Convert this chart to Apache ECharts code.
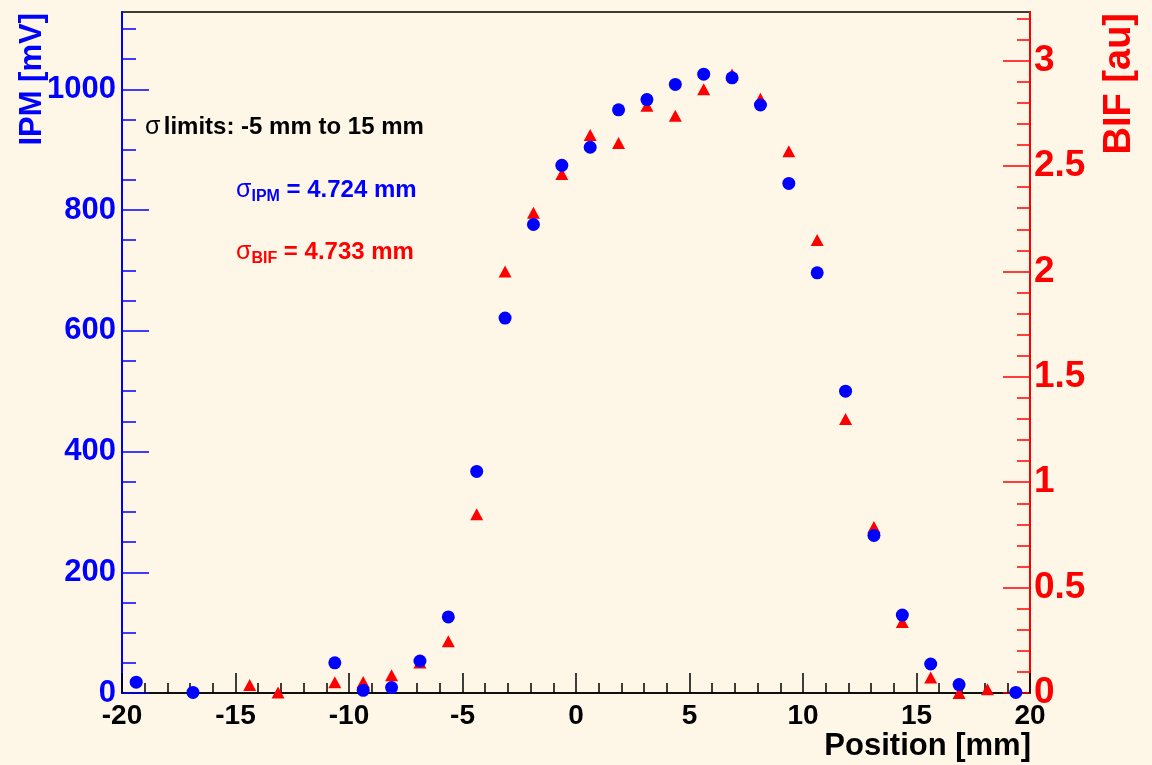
<!DOCTYPE html>
<html>
<head>
<meta charset="utf-8">
<script src="https://cdn.jsdelivr.net/npm/echarts@6/dist/echarts.min.js"></script>
<style>
html,body{margin:0;padding:0;background:#fef7e8;}
#c{width:1152px;height:765px;}
</style>
</head>
<body>
<div id="c"></div>
<script>
// ---- data ----
const ipmPositions = [-19.375, -16.875, -10.625, -9.375, -8.125, -6.875, -5.625, -4.375, -3.125, -1.875, -0.625, 0.625, 1.875, 3.125, 4.375, 5.625, 6.875, 8.125, 9.375, 10.625, 11.875, 13.125, 14.375, 15.625, 16.875, 19.375];
const ipmValues = [18, 1, 50, 4.5, 9, 53, 126, 367, 621, 776, 874, 904, 966, 983, 1008, 1025, 1019, 974, 844, 696, 500, 261, 129, 48, 14, 1];

const bifPositions = [-14.375, -13.125, -10.625, -9.375, -8.125, -6.875, -5.625, -4.375, -3.125, -1.875, -0.625, 0.625, 1.875, 3.125, 4.375, 5.625, 6.875, 8.125, 9.375, 10.625, 11.875, 13.125, 14.375, 15.625, 16.875, 18.125];
const bifValues = [0.038, 0.002, 0.051, 0.052, 0.084, 0.145, 0.246, 0.848, 2.0, 2.278, 2.462, 2.648, 2.61, 2.786, 2.739, 2.864, 2.935, 2.82, 2.57, 2.149, 1.30, 0.787, 0.337, 0.074, 0.0, 0.018];

// ---- axes / tick labels ----
const xMin = -20, xMax = 20, xStep = 5;
const ipmMin = 0, ipmMax = 1128;
const bifMin = 0, bifMax = 3.231;
const ipmTicks = [0, 200, 400, 600, 800, 1000];
const bifTicks = [0, 0.5, 1, 1.5, 2, 2.5, 3];
const ipmMinorTicks = [50, 100, 150, 250, 300, 350, 450, 500, 550, 650, 700, 750, 850, 900, 950, 1050, 1100];
const bifMinorTicks = [0.1, 0.2, 0.3, 0.4, 0.6, 0.7, 0.8, 0.9, 1.1, 1.2, 1.3, 1.4, 1.6, 1.7, 1.8, 1.9, 2.1, 2.2, 2.3, 2.4, 2.6, 2.7, 2.8, 2.9, 3.1, 3.2];

const xTitle = 'Position [mm]';
const ipmTitle = 'IPM [mV]';
const bifTitle = 'BIF [au]';
const noteLimits = 'limits: -5 mm to 15 mm';
const noteIpm = ' = 4.724 mm';
const noteBif = ' = 4.733 mm';

// ---- styling ----
const F = '"Liberation Sans", Arial, Helvetica, sans-serif';
const BLUE = '#0000ff', RED = '#ff0000', BG = '#fef7e8', BLACK = '#000000';

const chart = echarts.init(document.getElementById('c'), null, {renderer: 'canvas'});

function pairs(xs, ys) { return xs.map((x, i) => [x, ys[i]]); }

const option = {
  backgroundColor: BG,
  animation: false,
  grid: {
    left: 122, right: 122, top: 12, bottom: 72,
    show: true, backgroundColor: BG, borderColor: BLACK, borderWidth: 1.5,
    containLabel: false, outerBoundsMode: 'none'
  },
  xAxis: [{
    type: 'value', min: xMin, max: xMax, interval: xStep, position: 'bottom',
    axisLine: {show: true, onZero: false, lineStyle: {color: BLACK, width: 1.5}},
    axisTick: {show: true, inside: true, length: 20, lineStyle: {color: BLACK, width: 1.5}},
    minorTick: {show: true, splitNumber: 5, length: 10, lineStyle: {color: BLACK, width: 1.5}},
    axisLabel: {color: BLACK, fontFamily: F, fontWeight: 'bold', fontSize: 28, margin: 9},
    splitLine: {show: false}, minorSplitLine: {show: false}
  }],
  yAxis: [{
    type: 'value', min: ipmMin, max: ipmMax, position: 'left',
    axisLine: {show: true, onZero: false, lineStyle: {color: BLUE, width: 2}},
    axisTick: {show: true, inside: true, length: 27, customValues: ipmTicks, lineStyle: {color: BLUE, width: 1.5}},
    axisLabel: {show: true, customValues: ipmTicks, color: BLUE, fontFamily: F, fontWeight: 'bold', fontSize: 31, margin: 6, formatter: v => String(v)},
    splitLine: {show: false}
  }, {
    type: 'value', min: bifMin, max: bifMax, position: 'right',
    axisLine: {show: true, onZero: false, lineStyle: {color: RED, width: 2}},
    axisTick: {show: true, inside: true, length: 27, customValues: bifTicks, lineStyle: {color: RED, width: 1.5}},
    axisLabel: {show: true, customValues: bifTicks, color: RED, fontFamily: F, fontWeight: 'bold', fontSize: 37, margin: 4, formatter: v => String(v)},
    splitLine: {show: false}
  }, {
    type: 'value', min: ipmMin, max: ipmMax, position: 'left',
    axisLine: {show: false, onZero: false},
    axisTick: {show: true, inside: true, length: 14, customValues: ipmMinorTicks, lineStyle: {color: BLUE, width: 1.5}},
    axisLabel: {show: false},
    splitLine: {show: false}
  }, {
    type: 'value', min: bifMin, max: bifMax, position: 'right',
    axisLine: {show: false, onZero: false},
    axisTick: {show: true, inside: true, length: 13, customValues: bifMinorTicks, lineStyle: {color: RED, width: 1.5}},
    axisLabel: {show: false},
    splitLine: {show: false}
  }],
  series: [{
    name: 'BIF', type: 'scatter', xAxisIndex: 0, yAxisIndex: 1,
    data: pairs(bifPositions, bifValues),
    symbol: 'triangle', symbolSize: [13, 12],
    itemStyle: {color: RED, opacity: 1}, clip: false
  }, {
    name: 'IPM', type: 'scatter', xAxisIndex: 0, yAxisIndex: 0,
    data: pairs(ipmPositions, ipmValues),
    symbol: 'circle', symbolSize: 13,
    itemStyle: {color: BLUE, opacity: 1}, clip: false
  }],
  graphic: [
    {type: 'text', x: 32, y: 13, rotation: Math.PI / 2, z: 10,
     style: {text: ipmTitle, fill: BLUE, font: 'bold 31px ' + F, align: 'right', verticalAlign: 'middle'}},
    {type: 'text', x: 1120, y: 13, rotation: Math.PI / 2, z: 10,
     style: {text: bifTitle, fill: RED, font: 'bold 38px ' + F, align: 'right', verticalAlign: 'middle'}},
    {type: 'text', x: 1031, y: 746, z: 10,
     style: {text: xTitle, fill: BLACK, font: 'bold 31px ' + F, align: 'right', verticalAlign: 'middle'}},
    {type: 'text', x: 145, y: 127, z: 10,
     style: {text: '{s|σ} {b|' + noteLimits + '}', align: 'left', verticalAlign: 'middle',
       rich: {s: {fill: BLACK, font: '25px ' + F, lineHeight: 30}, b: {fill: BLACK, font: 'bold 24px ' + F, lineHeight: 30}}}},
    {type: 'text', x: 236, y: 190, z: 10,
     style: {text: '{s|σ}{sub|IPM}{b|' + noteIpm + '}', align: 'left', verticalAlign: 'middle',
       rich: {s: {fill: BLUE, font: '25px ' + F, lineHeight: 30},
              sub: {fill: BLUE, font: 'bold 16px ' + F, lineHeight: 14, verticalAlign: 'bottom'},
              b: {fill: BLUE, font: 'bold 24px ' + F, lineHeight: 30}}}},
    {type: 'text', x: 236, y: 252, z: 10,
     style: {text: '{s|σ}{sub|BIF}{b|' + noteBif + '}', align: 'left', verticalAlign: 'middle',
       rich: {s: {fill: RED, font: '25px ' + F, lineHeight: 30},
              sub: {fill: RED, font: 'bold 16px ' + F, lineHeight: 14, verticalAlign: 'bottom'},
              b: {fill: RED, font: 'bold 24px ' + F, lineHeight: 30}}}}
  ]
};
chart.setOption(option);
</script>
</body>
</html>
